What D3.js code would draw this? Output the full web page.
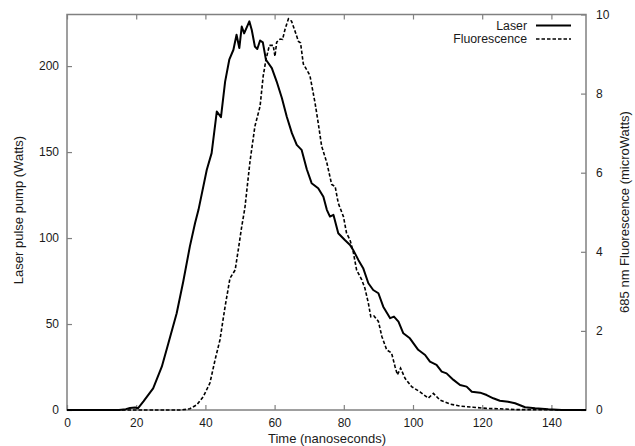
<html>
<head>
  <script src="https://d3js.org/d3.v7.min.js"></script>
  <style>
    body { margin: 0; background: #fff; }
    text { font-family: "Liberation Sans", Arial, sans-serif; }
  </style>
</head>
<body>
<div id="chart"></div>
<script>
  // laser pulse, Watts (left axis)
  const laserTime = [0, 15, 17, 18.2, 19.7, 20.5, 22.1, 24.9, 27.4, 29.3, 31.7, 33.6, 35.5, 37.0, 38.0, 40.4, 41.8, 43.3, 44.5, 45.7, 46.9, 48.1, 49.0, 49.8, 50.5, 51.2, 52.7, 53.4, 54.3, 55.0, 55.8, 56.6, 57.5, 59.2, 60.6, 62.1, 63.5, 65.0, 66.4, 67.8, 69.3, 70.7, 72.6, 74.1, 75.1, 76.0, 77.0, 78.4, 80.3, 81.8, 82.7, 84.2, 85.6, 87.1, 88.5, 90.0, 91.4, 93.4, 94.5, 95.8, 97.2, 99.1, 101.5, 103.5, 104.9, 106.8, 108.3, 109.7, 111.7, 113.6, 115.5, 117.0, 119.4, 121.3, 123.2, 125.1, 127.5, 129.5, 132.4, 135.3, 139.1, 143, 150];
  const laserWatts = [0, 0, 0.5, 1.2, 1.4, 1.0, 5, 12.6, 25.2, 38.8, 56.3, 74.7, 95, 108.6, 116.4, 139.7, 149.4, 173.6, 170.3, 191, 203.7, 209.5, 218.2, 210.5, 223, 219, 226, 221, 211.4, 209.9, 214.9, 213.8, 203.7, 198.8, 191, 181.4, 170.7, 161, 154.2, 151.3, 140, 131.9, 129, 124, 116.4, 112.5, 113.5, 102.8, 98.9, 96, 93.1, 87.3, 82.5, 73.7, 69.8, 67.9, 60.1, 53.4, 54.3, 51.4, 44.6, 41.7, 35, 32, 28.1, 26.2, 22.3, 21.3, 17.5, 14.5, 13.6, 10.6, 10.1, 8.7, 6.8, 5.4, 4.8, 3.9, 1.6, 1.0, 0.4, 0, 0];

  // fluorescence, microWatts (right axis)
  const fluorTime = [0, 33, 35.5, 37.5, 39.4, 41.3, 42.8, 44.2, 45.7, 47.1, 48.6, 49.5, 50.5, 51.4, 52.9, 54.3, 55.8, 56.7, 57.5, 58.5, 59.6, 60.1, 60.6, 61.6, 62.3, 63.0, 64.0, 64.9, 65.9, 66.9, 67.5, 68.3, 69.3, 70.2, 71.7, 72.6, 73.6, 75.1, 76.5, 77.5, 78.4, 79.9, 80.8, 81.8, 82.7, 83.7, 85.2, 86.1, 87.1, 87.8, 88.7, 90.0, 91.0, 92.4, 93.8, 94.8, 95.5, 96.4, 97.7, 99.6, 102.0, 104.4, 105.9, 107.8, 110.7, 113.6, 117.4, 121.3, 125.1, 130, 150];
  const fluorMicroW = [0, 0, 0.03, 0.13, 0.34, 0.68, 1.27, 1.77, 2.62, 3.33, 3.54, 4.05, 4.64, 5.1, 6.29, 7.17, 7.68, 8.44, 8.86, 9.22, 9.22, 8.94, 9.30, 9.38, 9.37, 9.62, 9.89, 9.83, 9.58, 9.32, 9.28, 8.75, 8.6, 8.46, 7.76, 7.26, 6.67, 6.25, 5.70, 5.65, 5.23, 4.89, 4.47, 4.30, 4.01, 3.54, 3.29, 3.08, 2.70, 2.36, 2.38, 2.24, 1.86, 1.52, 1.44, 1.10, 0.89, 1.06, 0.80, 0.59, 0.46, 0.30, 0.42, 0.25, 0.15, 0.10, 0.07, 0.04, 0.03, 0.01, 0];

  const xTicks = [0, 20, 40, 60, 80, 100, 120, 140];
  const leftTicks = [0, 50, 100, 150, 200];
  const rightTicks = [0, 2, 4, 6, 8, 10];

  const width = 635, height = 446;
  const plot = { left: 67, right: 586, top: 14.5, bottom: 410 };
  const frameColor = "#808080";
  const textColor = "#1a1a1a";

  let svg = d3.select("#chart").append("svg").attr("width", width).attr("height", height);

  let xScale = d3.scaleLinear().domain([0, 150]).range([plot.left, plot.right]);
  let yLeft = d3.scaleLinear().domain([0, 230]).range([plot.bottom, plot.top]);
  let yRight = d3.scaleLinear().domain([0, 10]).range([plot.bottom, plot.top]);

  function styleAxis(g) {
    g.select(".domain").remove();
    g.selectAll(".tick line").attr("stroke", frameColor).attr("stroke-width", 1.2);
    g.selectAll(".tick text").attr("fill", textColor).attr("font-size", "12px")
      .attr("font-family", "'Liberation Sans', Arial, sans-serif");
  }

  // axes, ticks pointing inward
  svg.append("g")
     .attr("transform", "translate(0," + plot.bottom + ")")
     .call(d3.axisBottom(xScale).tickValues(xTicks).tickSizeInner(-5).tickSizeOuter(0).tickPadding(8))
     .call(styleAxis);
  svg.append("g")
     .attr("transform", "translate(0," + plot.top + ")")
     .call(d3.axisTop(xScale).tickValues(xTicks).tickSizeInner(-5).tickSizeOuter(0).tickFormat(""))
     .call(styleAxis);
  svg.append("g")
     .attr("transform", "translate(" + plot.left + ",0)")
     .call(d3.axisLeft(yLeft).tickValues(leftTicks).tickSizeInner(-5).tickSizeOuter(0).tickPadding(8))
     .call(styleAxis);
  svg.append("g")
     .attr("transform", "translate(" + plot.right + ",0)")
     .call(d3.axisRight(yRight).tickValues(rightTicks).tickSizeInner(-5).tickSizeOuter(0).tickPadding(10))
     .call(styleAxis);

  // frame
  svg.append("rect")
     .attr("x", plot.left).attr("y", plot.top)
     .attr("width", plot.right - plot.left).attr("height", plot.bottom - plot.top)
     .attr("fill", "none").attr("stroke", frameColor).attr("stroke-width", 1.5);

  // lines
  let laserLine = d3.line().x(d => xScale(d[0])).y(d => yLeft(d[1]));
  let fluorLine = d3.line().x(d => xScale(d[0])).y(d => yRight(d[1]));

  svg.append("path")
     .datum(d3.zip(fluorTime, fluorMicroW))
     .attr("d", fluorLine)
     .attr("fill", "none").attr("stroke", "#000").attr("stroke-width", 1.6)
     .attr("stroke-dasharray", "3.5,2");

  svg.append("path")
     .datum(d3.zip(laserTime, laserWatts))
     .attr("d", laserLine)
     .attr("fill", "none").attr("stroke", "#000").attr("stroke-width", 2)
     .attr("stroke-linejoin", "round");

  // legend
  const legend = [
    { name: "Laser", y: 25.5, dash: null, w: 2 },
    { name: "Fluorescence", y: 39, dash: "3.5,2", w: 1.6 }
  ];
  legend.forEach(function(l) {
    svg.append("text")
       .attr("x", 527).attr("y", l.y).attr("dy", "0.35em")
       .attr("text-anchor", "end").attr("font-size", "12.3px").attr("fill", textColor)
       .text(l.name);
    svg.append("line")
       .attr("x1", 536).attr("x2", 571).attr("y1", l.y).attr("y2", l.y)
       .attr("stroke", "#000").attr("stroke-width", l.w)
       .attr("stroke-dasharray", l.dash);
  });

  // axis titles
  svg.append("text")
     .attr("x", 327).attr("y", 443)
     .attr("text-anchor", "middle").attr("font-size", "13px").attr("fill", textColor)
     .text("Time (nanoseconds)");
  svg.append("text")
     .attr("transform", "translate(18," + 210 + ") rotate(-90)")
     .attr("dy", "0.35em")
     .attr("text-anchor", "middle").attr("font-size", "13px").attr("fill", textColor)
     .text("Laser pulse pump (Watts)");
  svg.append("text")
     .attr("transform", "translate(624," + 212 + ") rotate(-90)")
     .attr("dy", "0.35em")
     .attr("text-anchor", "middle").attr("font-size", "13px").attr("fill", textColor)
     .text("685 nm Fluorescence (microWatts)");
</script>
</body>
</html>
